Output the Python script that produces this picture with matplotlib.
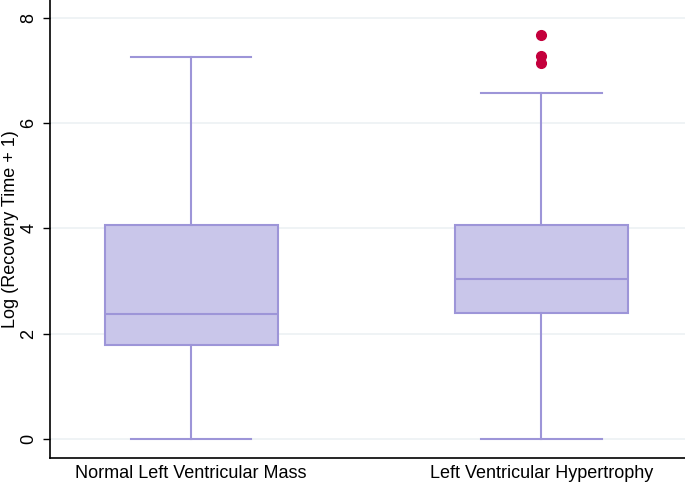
import matplotlib
matplotlib.use("Agg")
import matplotlib.pyplot as plt

plt.rcParams['font.family'] = ['Liberation Sans', 'DejaVu Sans']

categories = ["Normal Left Ventricular Mass", "Left Ventricular Hypertrophy"]
q1 = [1.79, 2.40]
medians = [2.38, 3.04]
q3 = [4.07, 4.07]
whislo = [0.0, 0.0]
whishi = [7.26, 6.58]
outliers = [[], [7.68, 7.28, 7.15]]
yticks = [0, 2, 4, 6, 8]

stats = []
for i, c in enumerate(categories):
    stats.append(dict(label=c, q1=q1[i], med=medians[i], q3=q3[i],
                      whislo=whislo[i], whishi=whishi[i], fliers=outliers[i]))

fig = plt.figure(figsize=(6.85, 4.82), dpi=100)
ax = fig.add_axes([0.073, 0.05, 0.927, 0.95])

edge = '#9d95d8'
fill = '#c9c6ea'
ax.bxp(stats, positions=[1, 2], widths=0.494, patch_artist=True,
       boxprops=dict(facecolor=fill, edgecolor=edge, linewidth=1.5),
       medianprops=dict(color=edge, linewidth=1.5),
       whiskerprops=dict(color=edge, linewidth=1.5),
       capprops=dict(color=edge, linewidth=1.5),
       capwidths=0.345,
       flierprops=dict(marker='o', markerfacecolor='#c4003c', markeredgecolor='#c4003c',
                       markersize=7, linestyle='none'))

ax.set_xlim(0.597, 2.411)
ax.set_ylim(-0.36, 8.34)
ax.set_yticks(yticks)
ax.set_yticklabels([str(t) for t in yticks], rotation=90, va='center', fontsize=13)
ax.tick_params(axis='y', length=5, width=1, pad=4)
ax.tick_params(axis='x', length=0, pad=5, labelsize=13)
ax.yaxis.grid(True, color='#ecf1f4', linewidth=1.2)
ax.set_axisbelow(True)
for s in ['top', 'right']:
    ax.spines[s].set_visible(False)
ax.spines['left'].set_linewidth(1.2)
ax.spines['bottom'].set_linewidth(1.2)
ax.set_ylabel("Log (Recovery Time + 1)", fontsize=13)
ax.yaxis.set_label_coords(-0.049, 0.5)

fig.savefig("out.png", dpi=100)
